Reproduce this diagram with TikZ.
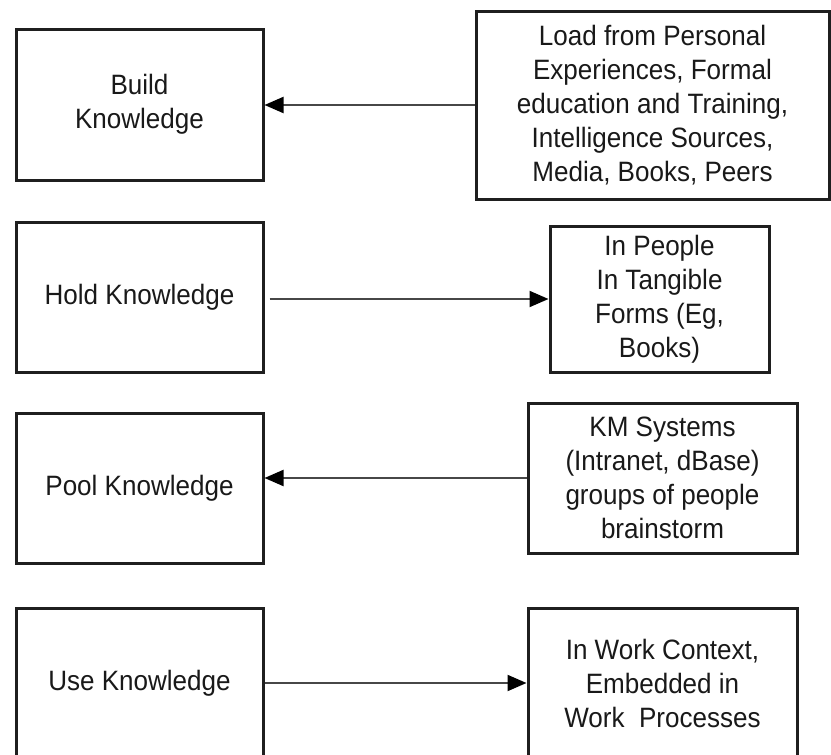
\documentclass[tikz,border=0pt]{standalone}
\usepackage{fontspec}
\setmainfont{Liberation Sans}[FakeStretch=0.93]
\usetikzlibrary{arrows.meta}
\begin{document}
\begin{tikzpicture}[x=1pt,y=-1pt,
  box/.style={draw=black!88, line width=3pt, align=center, inner sep=0pt,
    text=black!90, font=\fontsize{28}{34}\selectfont},
  link/.style={draw=black!72, line width=2pt,
    -{Triangle[length=19pt,width=16pt,fill=black,color=black]}}]
\clip (0,0) rectangle (831,755);
\fill[white] (0,0) rectangle (831,755);

% stages
\node[box, minimum width=247pt, minimum height=151pt] (build) at (139.5,104.5) {Build\\Knowledge};
\node[box, minimum width=247pt, minimum height=150pt] (hold) at (139.5,297) {Hold Knowledge};
\node[box, minimum width=247pt, minimum height=150pt] (pool) at (139.5,488) {Pool Knowledge};
\node[box, minimum width=247pt, minimum height=150pt] (use) at (139.5,683) {Use Knowledge};

% sources and places
\node[box, minimum width=353pt, minimum height=188pt] (load) at (652.5,105)
  {Load from Personal\\Experiences, Formal\\education and Training,\\Intelligence Sources,\\Media, Books, Peers};
\node[box, minimum width=219pt, minimum height=146pt] (people) at (659.5,299)
  {In People\\In Tangible\\Forms (Eg,\\Books)};
\node[box, minimum width=269pt, minimum height=150pt] (km) at (662.5,478)
  {KM Systems\\(Intranet, dBase)\\groups of people\\brainstorm};
\node[box, minimum width=269pt, minimum height=150pt] (work) at (662.5,683)
  {In Work Context,\\Embedded in\\Work~ Processes};

% connectors
\draw[link] (load.west) -- (load.west -| build.east);
\draw[link, shorten <=5pt] (people.west -| hold.east) -- (people.west);
\draw[link] (km.west) -- (km.west -| pool.east);
\draw[link] (use.east) -- (work.west);
\end{tikzpicture}
\end{document}
